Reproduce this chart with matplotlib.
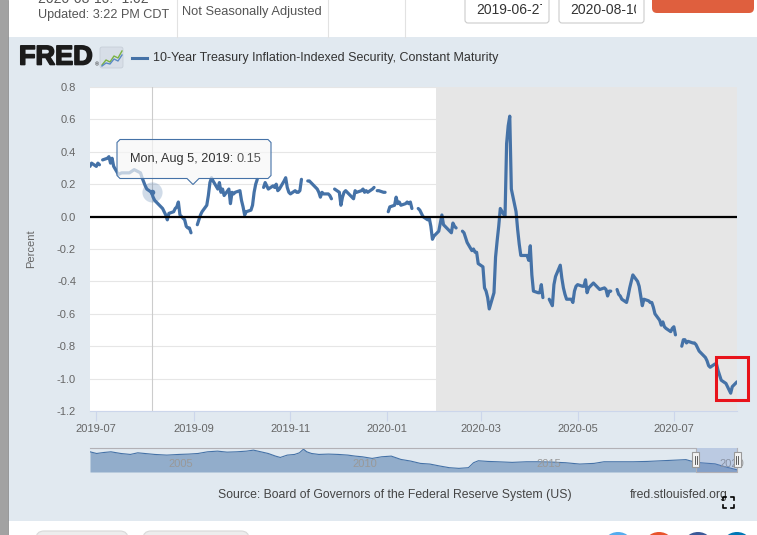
import numpy as np
import pandas as pd
import matplotlib
matplotlib.use("Agg")
import matplotlib.pyplot as plt
import matplotlib.patheffects as pe
from matplotlib.patches import Rectangle, FancyBboxPatch, Polygon, Circle
from matplotlib.lines import Line2D
from matplotlib.transforms import Affine2D, blended_transform_factory

W, H = 757, 535

# 10-Year TIPS yield, daily, percent (None = market holiday, gap in the line)
obs_dates = (
    ["2019-06-%02d" % d for d in [27, 28]]
    + ["2019-07-%02d" % d for d in [1, 2, 3, 4, 5, 8, 9, 10, 11, 12, 15, 17, 19, 22, 25, 29, 30]]
    + ["2019-08-%02d" % d for d in [1, 2, 5, 6, 7, 8, 9, 12, 13, 14, 15, 16, 19, 20, 21, 22, 23, 26, 27, 28, 29, 30]]
    + ["2019-09-%02d" % d for d in [2, 3, 4, 5, 6, 9, 10, 11, 12, 13, 16, 17, 18, 19, 20, 23, 24, 25, 26, 27, 30]]
    + ["2019-10-%02d" % d for d in [1, 2, 3, 4, 7, 8, 9, 10, 11, 14, 15, 16, 17, 18, 21, 22, 23, 24, 25, 28, 29, 30, 31]]
    + ["2019-11-%02d" % d for d in [1, 4, 5, 6, 7, 8, 11, 12, 13, 14, 15, 18, 19, 20, 21, 22, 25, 26, 27, 28, 29]]
    + ["2019-12-%02d" % d for d in [2, 3, 4, 5, 6, 9, 10, 11, 12, 13, 16, 17, 18, 19, 20, 23, 24, 25, 26, 27, 30, 31]]
    + ["2020-01-%02d" % d for d in [1, 2, 3, 6, 7, 8, 9, 10, 13, 14, 15, 16, 17, 20, 21, 22, 23, 24, 27, 28, 29, 30, 31]]
    + ["2020-02-%02d" % d for d in [3, 4, 5, 6, 7, 10, 11, 12, 13, 14, 17, 18, 19, 20, 21, 24, 25, 26, 27, 28]]
    + ["2020-03-%02d" % d for d in [2, 3, 4, 5, 6, 9, 10, 11, 12, 13, 16, 17, 18, 19, 20, 23, 24, 25, 26, 27, 30, 31]]
    + ["2020-04-%02d" % d for d in [1, 2, 3, 6, 7, 8, 9, 10, 13, 14, 15, 16, 17, 20, 21, 22, 23, 24, 27, 28, 29, 30]]
    + ["2020-05-%02d" % d for d in [1, 4, 5, 6, 7, 8, 11, 12, 13, 14, 15, 18, 19, 20, 21, 22, 25, 26, 27, 28, 29]]
    + ["2020-06-%02d" % d for d in [1, 2, 3, 4, 5, 8, 9, 10, 11, 12, 15, 16, 17, 18, 19, 22, 23, 24, 25, 26, 29, 30]]
    + ["2020-07-%02d" % d for d in [1, 2, 3, 6, 7, 8, 9, 10, 13, 14, 15, 16, 17, 20, 21, 22, 23, 24, 27, 28, 29, 30, 31]]
    + ["2020-08-%02d" % d for d in [3, 4, 5, 6, 7, 10]]
)
obs_values = (
    [0.31, 0.33]
    + [0.31, 0.33, 0.32, None, 0.35, 0.36, 0.37, 0.33, 0.36, 0.31, 0.26, 0.27, 0.27, 0.27, 0.29, 0.27, 0.24]
    + [0.19, 0.17, 0.15, 0.12, 0.10, 0.09, 0.08, 0.05, 0.03, 0.01, -0.02, 0.02, 0.03, 0.05, 0.06, 0.09, 0.01,
       -0.02, -0.06, -0.07, -0.07, -0.10]
    + [None, -0.05, -0.02, 0.01, 0.03, 0.07, 0.13, 0.21, 0.24, 0.22, 0.17, 0.21, 0.15, 0.17, 0.13, 0.17, 0.08,
       0.15, 0.14, 0.15, 0.16]
    + [0.10, 0.06, 0.01, 0.03, 0.04, 0.07, 0.15, 0.20, 0.23, None, 0.18, 0.21, 0.19, 0.17, 0.19, 0.18, 0.20,
       0.16, 0.17, 0.22, 0.24, 0.18, 0.15]
    + [0.14, 0.16, 0.15, 0.15, 0.16, 0.23, None, 0.22, 0.22, 0.21, 0.20, 0.17, 0.15, 0.12, 0.15, 0.14, 0.14,
       0.13, 0.11, None, 0.17]
    + [0.15, 0.07, 0.12, 0.15, 0.16, 0.13, 0.12, 0.11, 0.16, 0.15, 0.16, 0.17, 0.15, 0.16, 0.15, 0.17, 0.18,
       None, 0.16, 0.16, 0.15, 0.15]
    + [None, 0.03, 0.06, 0.07, 0.12, 0.08, 0.09, 0.07, 0.08, 0.09, 0.08, 0.09, 0.05, None, 0.05, 0.04, 0.02,
       0.00, -0.02, -0.01, -0.06, -0.14, -0.12]
    + [-0.09, -0.04, 0.01, -0.05, -0.06, -0.09, -0.10, -0.04, -0.06, -0.07, None, -0.09, -0.10, -0.13, -0.16,
       -0.21, -0.20, -0.22, -0.22, -0.29]
    + [-0.31, -0.44, -0.46, -0.50, -0.57, -0.47, -0.25, -0.15, -0.06, 0.05, 0.00, 0.45, 0.56, 0.62, 0.17,
       0.03, -0.08, -0.17, -0.24, -0.24, -0.24, -0.27]
    + [-0.18, -0.36, -0.46, -0.47, -0.47, -0.42, -0.50, None, -0.51, -0.53, -0.55, -0.42, -0.37, -0.30, -0.38,
       -0.44, -0.48, -0.51, -0.51, -0.53, -0.46, -0.43]
    + [-0.42, -0.43, -0.43, -0.39, -0.47, -0.44, -0.41, -0.42, -0.43, -0.44, -0.45, -0.44, -0.45, -0.49, -0.46,
       -0.46, None, -0.45, -0.48, -0.49, -0.51]
    + [-0.53, -0.49, -0.44, -0.40, -0.36, -0.40, -0.43, -0.49, -0.55, -0.51, -0.52, -0.53, -0.53, -0.56, -0.60,
       -0.64, -0.67, -0.65, -0.68, -0.69, -0.71, -0.69]
    + [-0.68, -0.73, None, -0.80, -0.76, -0.76, -0.78, -0.77, -0.78, -0.78, -0.79, -0.81, -0.83, -0.86, -0.87,
       -0.89, -0.92, -0.93, -0.91, -0.91, -0.95, -0.98, -1.01]
    + [-1.03, -1.05, -1.07, -1.09, -1.05, -1.02]
)

# navigator: full history, decimal years
nav_years = [2003.00, 2003.18, 2003.38, 2003.57, 2003.84, 2004.10, 2004.30, 2004.49, 2004.76, 2005.09,
             2005.42, 2005.68, 2005.94, 2006.20, 2006.47, 2006.73, 2006.99, 2007.26, 2007.45, 2007.65,
             2007.85, 2008.05, 2008.18, 2008.37, 2008.57, 2008.70, 2008.81, 2008.90, 2009.03, 2009.23,
             2009.49, 2009.76, 2010.02, 2010.22, 2010.41, 2010.68, 2010.94, 2011.20, 2011.46, 2011.73,
             2011.99, 2012.25, 2012.52, 2012.78, 2013.04, 2013.30, 2013.44, 2013.57, 2013.83, 2014.09,
             2014.49, 2014.88, 2015.15, 2015.54, 2015.94, 2016.33, 2016.72, 2016.99, 2017.38, 2017.78,
             2018.17, 2018.56, 2018.96, 2019.22, 2019.49, 2019.75, 2020.01, 2020.27, 2020.54, 2020.61]
nav_values = [2.20, 1.90, 2.08, 2.20, 1.90, 1.73, 2.02, 1.90, 1.73, 1.61,
              1.73, 1.79, 1.90, 2.20, 2.32, 2.14, 2.20, 2.32, 2.50, 2.20,
              1.90, 1.43, 1.19, 1.61, 1.73, 2.02, 2.67, 2.20, 1.90, 1.73,
              1.79, 1.73, 1.61, 1.43, 1.31, 1.02, 1.31, 1.43, 0.84, 0.54,
              0.13, 0.01, -0.34, -0.64, -0.76, -0.64, 0.25, 0.60, 0.48, 0.42,
              0.31, 0.42, 0.42, 0.37, 0.25, 0.01, 0.13, 0.42, 0.42, 0.42,
              0.48, 0.60, 0.72, 0.80, 0.31, 0.17, 0.05, -0.45, -0.90, -1.02]
nav_label_years = [2005, 2010, 2015, 2020]

x_tick_dates = ["2019-07-01", "2019-09-01", "2019-11-01", "2020-01-01", "2020-03-01", "2020-05-01", "2020-07-01"]
x_tick_labels = ["2019-07", "2019-09", "2019-11", "2020-01", "2020-03", "2020-05", "2020-07"]
y_ticks = [0.8, 0.6, 0.4, 0.2, 0.0, -0.2, -0.4, -0.6, -0.8, -1.0, -1.2]

start_date, end_date = "2019-06-27", "2020-08-10"
recession_start = "2020-02-01"
hover_date, hover_value = "2019-08-05", 0.15

series_name = "10-Year Treasury Inflation-Indexed Security, Constant Maturity"
source_text = "Source: Board of Governors of the Federal Reserve System (US)"

BLUE = "#4572a7"
PANEL = "#e1e9f0"

plt.rcParams["font.family"] = ["Liberation Sans", "DejaVu Sans"]

fig = plt.figure(figsize=(W / 100, H / 100), dpi=100)
fig.patch.set_facecolor("white")
# pixel coordinates, origin top-left
PX = Affine2D().scale(1 / 100, -1 / 100).translate(0, H / 100) + fig.dpi_scale_trans


def rect(x0, y0, x1, y1, z=-5, **kw):
    p = Rectangle((x0, y0), x1 - x0, y1 - y0, transform=PX, zorder=z, **kw)
    fig.add_artist(p)
    return p


def rbox(x0, y0, x1, y1, r, z=-5, **kw):
    p = FancyBboxPatch((x0, y0), x1 - x0, y1 - y0, boxstyle="round,pad=0,rounding_size=%g" % r,
                       transform=PX, zorder=z, **kw)
    fig.add_artist(p)
    return p


def line(xs, ys, z=5, **kw):
    l = Line2D(xs, ys, transform=PX, zorder=z, **kw)
    fig.add_artist(l)
    return l


def label(x, y, s, **kw):
    return fig.text(x / W, 1 - y / H, s, **kw)


# page background
rect(8, 37, W, 521, fc=PANEL, lw=0, z=-6)
rect(0, 0, 8, H, fc="#a2a2a2", lw=0, z=-4)
line([8, 8], [0, H], color="#8a8a8a", lw=0.6)

# header strip (top line is cut by the page edge, as in the screenshot)
label(38, 3, "2020-08-10: -1.02", fontsize=10, color="#555555", va="baseline")
label(38, 15, "Updated: 3:22 PM CDT", fontsize=9.1, color="#555555", va="center")
label(182, 12, "Not Seasonally Adjusted", fontsize=9.3, color="#555555", va="center")
for xs in (177, 328, 405):
    line([xs, xs], [0, 37], color="#e2e2e2", lw=0.8)
for (bx0, bx1, txt, clipx) in [(465, 549, "2019-06-27", 541.5), (559, 644, "2020-08-10", 636)]:
    rbox(bx0, -4, bx1, 23, 3, z=1, fc="white", ec="#cccccc", lw=0.8)
    t = label(bx0 + 11, 10, txt, fontsize=10, color="#333333", va="center")
    t.set_clip_path(Rectangle((bx0, -4), clipx - bx0, 27, transform=PX))
rbox(652, -10, 754, 13, 5, z=1, fc="#df5f3e", lw=0)

# FRED logo + legend
label(19, 57.5, "FRED", fontsize=19.5, weight="bold", color="#1b1b1b", va="center",
      path_effects=[pe.withStroke(linewidth=1.2, foreground="#1b1b1b")])
label(95, 65, "\u00ae", fontsize=4, color="#1b1b1b", va="center")
rbox(100, 47, 123, 68, 2, z=1, fc="#d7dee7", ec="#c3cbd5", lw=0.5)
line([102, 106, 110, 114, 118, 122], [65, 60, 62, 56, 58, 51], color="#7cb342", lw=1)
line([102, 106, 110, 114, 118, 122], [66, 63, 64, 59, 61, 55], color="#5b8ac4", lw=1)
line([132, 147], [57.5, 57.5], color=BLUE, lw=2.2)
label(153, 57.5, series_name, fontsize=9, color="#333333", va="center")

# main plot
dt = pd.to_datetime(obs_dates)
vals = np.array(obs_values, dtype=float)

ax = fig.add_axes([90 / W, 1 - 411 / H, 647 / W, 324 / H])
ax.set_facecolor("white")
ax.set_xlim(pd.Timestamp(start_date), pd.Timestamp(end_date))
ax.set_ylim(-1.2, 0.8)
ax.axvspan(pd.Timestamp(recession_start), pd.Timestamp(end_date), color="#e6e6e6", lw=0, zorder=0.2)
ax.set_axisbelow(True)
ax.yaxis.grid(True, color="#e6e6e6", lw=0.8)
ax.set_yticks(y_ticks)
ax.set_yticklabels(["%.1f" % v for v in y_ticks])
ax.set_xticks(pd.to_datetime(x_tick_dates))
ax.set_xticklabels(x_tick_labels)
for s in ("top", "right", "left"):
    ax.spines[s].set_visible(False)
ax.spines["bottom"].set_color("#ccd6eb")
ax.spines["bottom"].set_linewidth(0.8)
ax.tick_params(axis="x", length=7, width=0.8, color="#ccd6eb", labelcolor="#666666", labelsize=8, pad=2.5)
ax.tick_params(axis="y", length=0, labelcolor="#666666", labelsize=8, pad=10)

hd = pd.Timestamp(hover_date)
ax.axvline(hd, color="#cccccc", lw=0.8, zorder=1)
ax.plot(dt, vals, color=BLUE, lw=2.3, solid_joinstyle="round", solid_capstyle="round", zorder=3)
ax.axhline(0, color="black", lw=1.6, zorder=4)
ax.plot([hd], [hover_value], "o", ms=14.5, color=BLUE, alpha=0.25, mew=0, zorder=5)
ax.plot([hd], [hover_value], "o", ms=4, color=BLUE, mew=0, zorder=6)

label(31, 249, "Percent", rotation=90, fontsize=8, color="#666666", ha="center", va="center")

# tooltip
x0, y0, x1, y1 = 117, 139.5, 271, 178.5
tip = [(x0 + 3, y0), (x1 - 3, y0), (x1, y0 + 3), (x1, y1 - 3), (x1 - 3, y1), (199, y1), (193, 184.5),
       (187, y1), (x0 + 3, y1), (x0, y1 - 3), (x0, y0 + 3)]
fig.add_artist(Polygon(tip, closed=True, transform=PX, fc=(0.97, 0.97, 0.97, 0.7), ec=BLUE, lw=0.8,
                       zorder=10))
ts = pd.Timestamp(hover_date)
t1 = label(130, 159, "%s, %s %d, %d:" % (ts.strftime("%a"), ts.strftime("%b"), ts.day, ts.year),
           fontsize=9.2, color="#333333", va="center", zorder=11)
bb = t1.get_window_extent(fig.canvas.get_renderer())
label(bb.x1 + 3.5, 159, "%.2f" % hover_value, fontsize=9.2, color="#555555", va="center", zorder=11)

# highlight box
fig.add_artist(Rectangle((715.7, 356.7), 32.6, 43.3, transform=PX, fill=False, ec="#e8131b", lw=2.2,
                         zorder=12))

# navigator
nlo, nhi = -1.41, 2.97
nax = fig.add_axes([90 / W, 1 - 472 / H, 647 / W, 24.5 / H])
nax.set_xlim(2003.0, 2020.61)
nax.set_ylim(nlo, nhi)
nax.axis("off")
nax.fill_between(nav_years, nav_values, nlo, color=BLUE, alpha=0.5, lw=0)
nax.plot(nav_years, nav_values, color=BLUE, lw=0.8)
btr = blended_transform_factory(nax.transData, nax.transAxes)
for yr in nav_label_years:
    t = nax.text(yr + 0.14, 0.33, str(yr), transform=btr, fontsize=8, color="#999999", va="center")
    t.set_clip_path(Rectangle((90, 440), 723.5 - 90, 40, transform=PX))
sel0, sel1 = 695.7, 737
rect(sel0, 447.5, sel1, 472, z=3, fc=(102 / 255, 133 / 255, 194 / 255, 0.3), lw=0)
line([90, sel0, sel0, sel1, sel1], [447.5, 447.5, 471.5, 471.5, 447.5], color="#b2b1b6", lw=0.8, z=4)
for xh in (sel0, sel1):
    rect(xh - 3.5, 452, xh + 3.5, 467, z=5, fc="#f2f2f2", ec="#999999", lw=0.8)
    line([xh - 1, xh - 1], [455.5, 463.5], color="#444444", lw=0.6, z=6)
    line([xh + 1, xh + 1], [455.5, 463.5], color="#444444", lw=0.6, z=6)

# footer
label(218, 495, source_text, fontsize=8.8, color="#444444", va="center")
label(630, 495, "fred.stlouisfed.org", fontsize=8.8, color="#444444", va="center")
for xs, ys in [([723, 723, 726], [500, 497, 497]), ([731, 734, 734], [497, 497, 500]),
               ([723, 723, 726], [505, 508, 508]), ([731, 734, 734], [508, 508, 505])]:
    line(xs, ys, color="black", lw=1.2, z=6)

# bottom strip
rbox(36, 531, 128, 551, 8, z=1, fc="#ededed", ec="#d9d9d9", lw=0.8)
rbox(143, 531, 249, 551, 8, z=1, fc="#ededed", ec="#d9d9d9", lw=0.8)
for cx, col in [(618, "#55acee"), (659, "#e8542b"), (698, "#3b5998"), (737, "#0077b5")]:
    fig.add_artist(Circle((cx, 548), 16, transform=PX, fc=col, lw=0, zorder=1))

fig.savefig("out.png", dpi=100)
